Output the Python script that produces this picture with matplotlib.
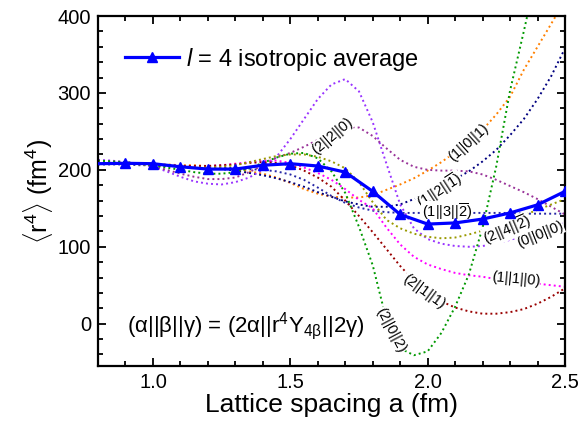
import matplotlib
matplotlib.use("Agg")
import matplotlib.pyplot as plt
from matplotlib.ticker import MultipleLocator, FormatStrFormatter

plt.rcParams['font.family'] = ['Liberation Sans', 'DejaVu Sans']
plt.rcParams['mathtext.fontset'] = 'custom'
plt.rcParams['mathtext.rm'] = 'Liberation Sans'
plt.rcParams['mathtext.it'] = 'Liberation Sans:italic'
plt.rcParams['mathtext.bf'] = 'Liberation Sans:bold'

# ---- data ----
avg_a = [0.8, 0.9, 1.0, 1.1, 1.2, 1.3, 1.4, 1.5, 1.6, 1.7, 1.8, 1.9, 2.0, 2.1, 2.2, 2.3, 2.4, 2.5]
avg_r4 = [208, 208.5, 208, 204, 201, 201, 206, 208, 205, 197, 172, 142, 129.5, 131, 136, 144, 154.5, 172]

a = [0.8, 0.85, 0.9, 0.95, 1.0, 1.05, 1.1, 1.15, 1.2, 1.25, 1.3, 1.35, 1.4, 1.45, 1.5, 1.55, 1.6,
     1.65, 1.7, 1.75, 1.8, 1.85, 1.9, 1.95, 2.0, 2.05, 2.1, 2.15, 2.2, 2.25, 2.3, 2.35, 2.4, 2.45, 2.5]

c_101 = [209, 209, 208, 208, 207, 207, 206, 206, 205, 203, 201, 198, 195, 190, 183, 175, 169,
         165, 164, 164, 167, 174, 181, 189, 199, 210, 223, 237, 252, 272, 295, 330, 360, 390, 420]
c_121 = [211, 210, 209, 208, 207, 206, 205, 204, 203, 201, 199, 196, 193, 189, 184, 178, 171,
         165, 159, 155, 152, 152, 155, 162, 170, 178, 188, 198, 211, 226, 245, 266, 292, 322, 358]
c_132 = [207, 207, 207, 206, 206, 205, 205, 204, 203, 203, 202, 201, 200, 198, 194, 187, 177,
         166, 157, 151, 147, 145, 144, 144, 144, 144, 144, 144, 144, 144, 144, 143, 143, 143, 143]
c_000 = [213, 212, 210, 208, 204, 198, 191, 185, 182, 181, 184, 190, 200, 217, 240, 266, 292,
         311, 318, 302, 262, 208, 155, 124, 110, 104, 101, 100, 101, 104, 109, 114, 120, 126, 132]
c_220 = [211, 211, 210, 208, 205, 200, 195, 191, 188, 188, 190, 197, 206, 216, 222, 230, 239,
         248, 256, 255, 244, 228, 213, 204, 200, 199, 199, 198, 194, 187, 179, 171, 162, 152, 142]
c_110 = [210, 210, 209, 208, 207, 206, 205, 205, 205, 206, 208, 210, 212, 212, 209, 203, 196,
         187, 175, 161, 150, 125, 103, 87, 77, 71, 66, 63, 61, 58, 56, 54, 52, 50, 48]
c_211 = [209, 209, 209, 208, 207, 206, 205, 205, 205, 206, 207, 209, 210, 209, 206, 199, 190,
         178, 160, 140, 119, 97, 75, 56, 41, 29, 21, 16, 13, 13, 15, 19, 26, 35, 46]
c_242 = [208, 208, 208, 207, 206, 205, 204, 203, 203, 204, 206, 210, 214, 218, 220, 220, 217,
         211, 202, 184, 158, 135, 124, 117, 113, 111, 112, 116, 121, 127, 134, 141, 148, 155, 162]
c_202 = [212, 211, 210, 208, 206, 203, 200, 197, 195, 195, 197, 202, 209, 216, 221, 222, 215,
         198, 170, 126, 76, 5, -32, -41, -36, -12, 22, 64, 125, 205, 303, 380, 460, 540, 620]

curves = [
    (c_101, '#ff8000', r'(1||0||1)', 2.15, 236, 42),
    (c_121, '#000080', r'(1||2||$\overline{1}$)', 2.045, 173, 33),
    (c_132, '#2626a6', r'(1||3||$\overline{2}$)', 2.07, 146, 0),
    (c_000, '#9933ff', r'(0||0||0)', 2.41, 116, 22),
    (c_220, '#993399', r'(2||2||0)', 1.652, 244, 40),
    (c_110, '#ff00ff', r'(1||1||0)', 2.32, 58, -5),
    (c_211, '#990000', r'(2||1||1)', 1.985, 42, -36),
    (c_242, '#999900', r'(2||4||$\overline{2}$)', 2.29, 122, 23),
    (c_202, '#009900', r'(2||0||2)', 1.865, -9, -62),
]

# ---- figure ----
fig = plt.figure(figsize=(5.79, 4.25), dpi=100)
ax = fig.add_axes([98 / 579, 1 - 366 / 425, (565 - 98) / 579, (366 - 16) / 425])

for ys, col, lab, lx, ly, rot in curves:
    ax.plot(a, ys, linestyle=(0, (1, 1.6)), color=col, lw=1.4, zorder=2)
    ax.text(lx, ly, lab, rotation=rot, ha='center', va='center', fontsize=10.5,
            color='black', zorder=4, rotation_mode='anchor',
            bbox=dict(facecolor='white', edgecolor='none', pad=0.2, alpha=1.0))

ax.plot(avg_a, avg_r4, color='#0000ff', lw=2.3, marker='^', markersize=6.5,
        markevery=slice(1, None), zorder=5, label=r'$l$ = 4 isotropic average')

ax.set_xlim(0.8, 2.5)
ax.set_ylim(-55, 400)
ax.xaxis.set_major_locator(MultipleLocator(0.5))
ax.xaxis.set_minor_locator(MultipleLocator(0.1))
ax.yaxis.set_major_locator(MultipleLocator(100))
ax.yaxis.set_minor_locator(MultipleLocator(20))
ax.tick_params(which='both', direction='in', top=True, right=True, width=1.3, labelsize=14.5)
ax.tick_params(which='major', length=6, pad=5)
ax.tick_params(which='minor', length=3.5)
ax.xaxis.set_major_formatter(FormatStrFormatter('%.1f'))
for s in ax.spines.values():
    s.set_linewidth(1.6)

ax.set_xlabel('Lattice spacing a (fm)', fontsize=19, labelpad=1)
ax.set_ylabel(r'$\langle$r$^4\rangle$ (fm$^4$)', fontsize=18, labelpad=2)

ax.text(0.062, 0.114, r'(α||β||γ) = (2α||r$^4$Y$_{4\mathrm{β}}$||2γ)', transform=ax.transAxes,
        fontsize=16, ha='left', va='center')

leg = ax.legend(loc='center left', bbox_to_anchor=(0.058, 0.877), frameon=False, fontsize=17,
                handlelength=2.3, handletextpad=0.3, borderaxespad=0, borderpad=0)

fig.savefig('out.png', dpi=100)
